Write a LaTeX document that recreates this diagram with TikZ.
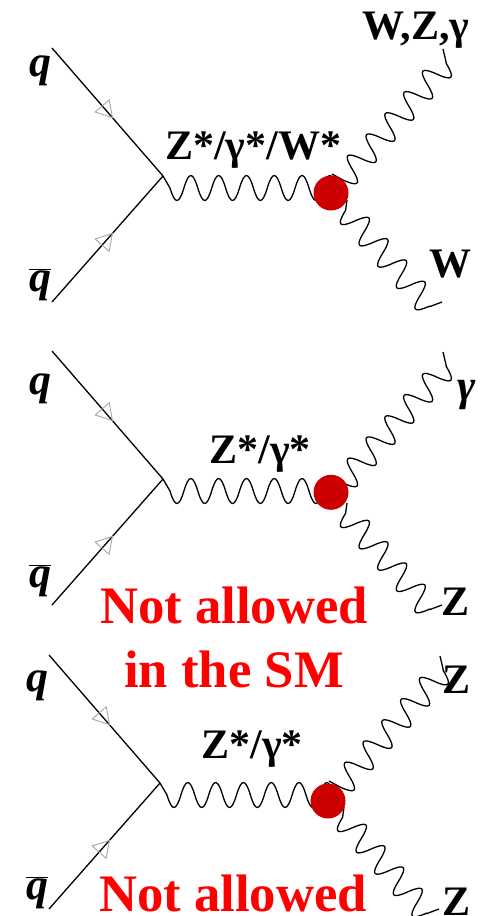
\documentclass[tikz,border=0pt]{standalone}
\usepackage{fontspec}
\setmainfont{Liberation Serif}
\usetikzlibrary{arrows.meta,decorations,decorations.markings}
\definecolor{blobred}{RGB}{204,0,0}
% half waves that leave the axis with a slope
\pgfdeclaredecoration{bosonwave}{down}{
	\state{down}[switch if less than=+.5\pgfdecorationsegmentlength to final,width=+.5\pgfdecorationsegmentlength,next state=up]{
		\pgfpathcurveto{\pgfpoint{.18\pgfdecorationsegmentlength}{-1.333\pgfdecorationsegmentamplitude}}{\pgfpoint{.32\pgfdecorationsegmentlength}{-1.333\pgfdecorationsegmentamplitude}}{\pgfpoint{.5\pgfdecorationsegmentlength}{0pt}}
	}
	\state{up}[switch if less than=+.5\pgfdecorationsegmentlength to final,width=+.5\pgfdecorationsegmentlength,next state=down]{
		\pgfpathcurveto{\pgfpoint{.18\pgfdecorationsegmentlength}{1.333\pgfdecorationsegmentamplitude}}{\pgfpoint{.32\pgfdecorationsegmentlength}{1.333\pgfdecorationsegmentamplitude}}{\pgfpoint{.5\pgfdecorationsegmentlength}{0pt}}
	}
	\state{final}{\pgfpathlineto{\pgfpointdecoratedpathlast}}
}
\tikzset{
	quark/.style={line width=1.3pt,postaction={decorate},decoration={markings,mark=at position 0.55 with {\arrow[gray!70,line width=0.9pt]{Triangle[open,length=17pt,width=20pt]}}}},
	boson/.style={line width=1.3pt,decoration={bosonwave,segment length=28.3pt,amplitude=12.5pt}},
	blob/.style={circle,fill=blobred,minimum size=35pt,inner sep=0pt},
	lab/.style={font=\bfseries\fontsize{42}{42}\selectfont,inner sep=0pt,anchor=base},
	quarklab/.style={font=\bfseries\itshape\fontsize{44}{44}\selectfont,inner sep=0pt,anchor=base},
	warn/.style={font=\bfseries\fontsize{52.7}{52.7}\selectfont,text=red,inner sep=0pt,anchor=base}
}
\begin{document}
\begin{tikzpicture}[x=1pt,y=-1pt]
	\useasboundingbox (0,0) rectangle (487,916);
	% three copies of the same graph
	\foreach \row/\dx/\dy/\by in {a/0/0/193,b/0/303/189.3,c/-3/607/194}{
		\begin{scope}[shift={(\dx,\dy)}]
			\coordinate (q\row) at (52,48);
			\coordinate (qb\row) at (52,302);
			\coordinate (v\row) at (163,176);
			\coordinate (s\row) at (170,188);
			\coordinate (e\row) at (338.8,188);
			\coordinate (us\row) at (332,174);
			\coordinate (ua\row) at (343,180);
			\coordinate (ub\row) at (446.4,63.4);
			\coordinate (ue\row) at (443,49);
			\coordinate (ds\row) at (347,200);
			\coordinate (da\row) at (345.6,210.3);
			\coordinate (db\row) at (429.8,306.6);
			\coordinate (de\row) at (442,302);
			\draw[quark] (q\row) -- (v\row);
			\draw[quark] (qb\row) -- (v\row);
			\draw[boson,decoration={segment length=27.8pt}] (v\row) -- (s\row) decorate {-- (e\row)};
			\draw[boson] (us\row) -- (ua\row) decorate {-- (ub\row)} -- (ue\row);
			\draw[boson] (ds\row) -- (da\row) decorate {-- (db\row)} -- (de\row);
			\node[blob] (c\row) at (331,\by) {};
		\end{scope}
	}
	\node[quarklab] (q1) at (40,76) {q};
	\node[quarklab] (q2) at (40,291) {$\overline{\mbox{q}}$};
	\node[quarklab] (q3) at (40,394) {q};
	\node[quarklab] (q4) at (40,587) {$\overline{\mbox{q}}$};
	\node[quarklab] (q5) at (38,691) {q};
	\node[quarklab] (q6) at (37,899) {$\overline{\mbox{q}}$};
	\node[lab] (z1) at (253,159) {Z*/γ*/W*};
	\node[lab] (z2) at (260,463) {Z*/γ*};
	\node[lab] (z3) at (252,758) {Z*/γ*};
	\node[lab] (w1) at (416,39.5) {W,Z,γ};
	\node[lab] (w2) at (450,277) {W};
	\node[quarklab] (g1) at (467,400) {γ};
	\node[lab] (z4) at (456,615) {Z};
	\node[lab] (z5) at (457,693) {Z};
	\node[lab] (z6) at (457,915.5) {Z};
	\node[warn] (n1) at (234,623) {Not allowed};
	\node[warn] (n2) at (234,687) {in the SM};
	\node[warn] (n3) at (233,911) {Not allowed};
\end{tikzpicture}
\end{document}
